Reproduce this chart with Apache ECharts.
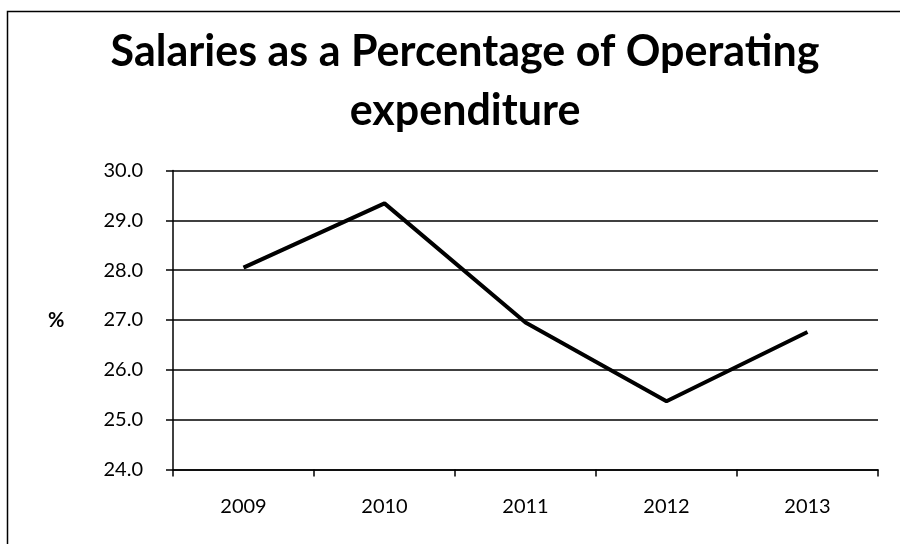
<!DOCTYPE html>
<html>
<head>
<meta charset="utf-8">
<style>
  html, body { margin: 0; padding: 0; background: #fff; }
  #chart { width: 900px; height: 544px; }
</style>
<script src="https://cdn.jsdelivr.net/npm/echarts@6/dist/echarts.min.js"></script>
</head>
<body>
<div id="chart"></div>
<script>
// Salaries as a share of operating expenditure, by year
const years = ['2009', '2010', '2011', '2012', '2013'];
const salaryPct = [28.05, 29.34, 26.95, 25.37, 26.76];
const yTicks = { min: 24, max: 30, interval: 1 };

const chart = echarts.init(document.getElementById('chart'));
const labelFont = 'Lato, "Open Sans", "DejaVu Sans", sans-serif';

chart.setOption({
  backgroundColor: '#ffffff',
  animation: false,
  title: {
    text: 'Salaries as a Percentage of Operating\nexpenditure',
    left: 460,
    textAlign: 'center',
    top: 18,
    textStyle: {
      fontFamily: labelFont,
      fontWeight: 'bold',
      fontSize: 43,
      lineHeight: 59,
      color: '#000'
    }
  },
  graphic: [
    {
      type: 'polyline',
      shape: { points: [[7.5, 560], [7.5, 11.5], [910, 11.5]] },
      style: { stroke: '#000', lineWidth: 1.5, fill: null },
      silent: true
    },
    {
      type: 'text',
      left: 48,
      top: 311,
      style: { text: '%', font: 'bold 20px ' + labelFont, fill: '#000' }
    }
  ],
  grid: { left: 173, right: 22, top: 170.5, bottom: 74.5, containLabel: false },
  xAxis: {
    type: 'category',
    data: years,
    boundaryGap: true,
    axisLine: { lineStyle: { color: '#000', width: 1.5 } },
    axisTick: { show: true, length: 7, lineStyle: { color: '#000', width: 1.5 } },
    axisLabel: { color: '#000', fontSize: 20, fontFamily: labelFont, margin: 27 },
    splitLine: { show: false }
  },
  yAxis: {
    type: 'value',
    min: yTicks.min,
    max: yTicks.max,
    interval: yTicks.interval,
    axisLine: { show: true, lineStyle: { color: '#000', width: 1.5 } },
    axisTick: { show: true, length: 7, lineStyle: { color: '#000', width: 1.5 } },
    axisLabel: {
      color: '#000', fontSize: 20, fontFamily: labelFont, margin: 30,
      formatter: v => v.toFixed(1)
    },
    splitLine: { show: true, lineStyle: { color: '#000', width: 1.5 } }
  },
  series: [{
    type: 'line',
    data: salaryPct,
    symbol: 'none',
    lineStyle: { color: '#000', width: 4 },
    z: 5
  }]
});
</script>
</body>
</html>
